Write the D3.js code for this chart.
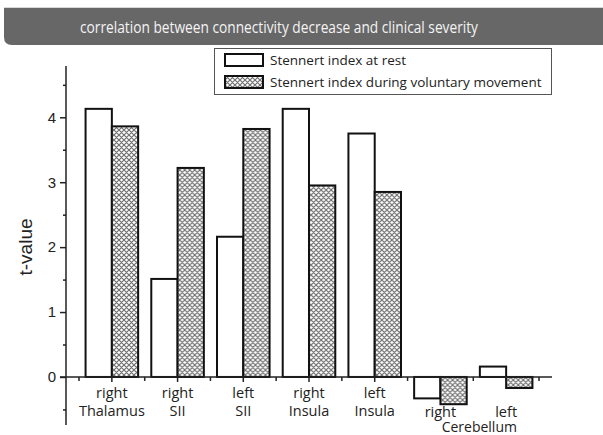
<!DOCTYPE html>
<html>
<head>
<meta charset="utf-8">
<script src="https://cdn.jsdelivr.net/npm/d3@7"></script>
<style>
  html, body { margin: 0; padding: 0; background: #fff; }
  svg { display: block; }
</style>
</head>
<body>
<svg id="chart" width="603" height="435"></svg>
<script>
const categories = ['right Thalamus', 'right SII', 'left SII', 'right Insula', 'left Insula', 'right Cerebellum', 'left Cerebellum'];
const labelTop = ['right', 'right', 'left', 'right', 'left', 'right', 'left'];
const labelBottom = ['Thalamus', 'SII', 'SII', 'Insula', 'Insula', '', ''];
const series = ['Stennert index at rest', 'Stennert index during voluntary movement'];
const restValues = [4.13, 1.51, 2.16, 4.13, 3.75, -0.33, 0.16];
const moveValues = [3.86, 3.22, 3.82, 2.95, 2.85, -0.42, -0.17];
const yTicks = [0, 1, 2, 3, 4];
const yMinorTicks = [-0.5, 0.5, 1.5, 2.5, 3.5, 4.5];
const title = 'correlation between connectivity decrease and clinical severity';

const svg = d3.select('#chart');
const humanist = "'Open Sans', 'Noto Sans', sans-serif";

// hatch pattern
const defs = svg.append('defs');
const pat = defs.append('pattern')
  .attr('id', 'hatch')
  .attr('patternUnits', 'userSpaceOnUse')
  .attr('width', 5)
  .attr('height', 5);
pat.append('rect').attr('width', 5).attr('height', 5).attr('fill', '#fff');
pat.append('path')
  .attr('d', 'M0,0 L5,5 M5,0 L0,5 M-1,4 L1,6 M4,-1 L6,1 M-1,1 L1,-1 M4,6 L6,4')
  .attr('stroke', '#707070')
  .attr('stroke-width', 1.2);

// title banner
svg.append('path')
  .attr('d', 'M4,8 H603 V45 H12 Q4,45 4,37 Z')
  .attr('fill', '#676767');
svg.append('line')
  .attr('x1', 4).attr('x2', 603).attr('y1', 7.5).attr('y2', 7.5)
  .attr('stroke', '#d8d8d8');
svg.append('text')
  .attr('x', 80)
  .attr('y', 33)
  .attr('textLength', 398)
  .attr('lengthAdjust', 'spacingAndGlyphs')
  .attr('fill', '#f4f4f4')
  .style('font-family', humanist)
  .style('font-size', '16.5px')
  .text(title);

// scales
const y = d3.scaleLinear().domain([-0.74, 4.79]).range([425, 66]);
const x = d3.scaleBand().domain(categories).range([79, 539]).padding(0);
const bw = x.bandwidth();
const xs = d3.scaleBand().domain([0, 1]).range([bw * 0.1, bw * 0.9]).padding(0);

const g = svg.append('g');

// bars
const rows = categories.map((c, i) => ({ c, vals: [restValues[i], moveValues[i]] }));
g.selectAll('.grp')
  .data(rows)
  .join('g')
  .attr('class', 'grp')
  .attr('transform', d => `translate(${x(d.c)},0)`)
  .selectAll('rect')
  .data(d => d.vals.map((v, k) => ({ v, k })))
  .join('rect')
  .attr('x', d => xs(d.k))
  .attr('width', xs.bandwidth())
  .attr('y', d => y(Math.max(0, d.v)))
  .attr('height', d => Math.abs(y(d.v) - y(0)))
  .attr('fill', d => d.k === 0 ? '#fff' : 'url(#hatch)')
  .attr('stroke', '#111')
  .attr('stroke-width', 2);

// y axis
const axisY = d3.axisLeft(y).tickValues(yTicks).tickSize(6).tickPadding(4).tickFormat(d3.format('d'));
const gy = g.append('g').attr('transform', 'translate(66,0)').call(axisY);
gy.select('.domain').attr('stroke', '#222').attr('stroke-width', 1.5).attr('d', `M0,${y(4.79)}V${y(-0.74)}`);
gy.selectAll('.tick line').attr('stroke', '#222').attr('stroke-width', 1.5);
gy.selectAll('.tick text')
  .attr('fill', '#222')
  .style('font-family', "'Liberation Sans', Arial, sans-serif")
  .style('font-size', '15px');
g.append('g').attr('transform', 'translate(66,0)')
  .call(d3.axisLeft(y).tickValues(yMinorTicks).tickSize(3).tickFormat(''))
  .call(s => s.select('.domain').remove())
  .selectAll('line').attr('stroke', '#222').attr('stroke-width', 1.5);

// x axis
g.append('line')
  .attr('x1', 60).attr('x2', 552)
  .attr('y1', y(0)).attr('y2', y(0))
  .attr('stroke', '#222').attr('stroke-width', 1.5);
const axisX = d3.axisBottom(x).tickSize(5).tickFormat('');
const gx = g.append('g').attr('transform', `translate(0,${y(0)})`).call(axisX);
gx.select('.domain').remove();
gx.selectAll('.tick line').attr('stroke', '#222').attr('stroke-width', 1.5);
const bounds = categories.map(c => x(c)).concat([x.range()[1]]);
g.selectAll('.minor-x')
  .data(bounds)
  .join('line')
  .attr('x1', d => d).attr('x2', d => d)
  .attr('y1', y(0)).attr('y2', y(0) + 4)
  .attr('stroke', '#222').attr('stroke-width', 1.5);

// category labels
const lab = g.append('g')
  .style('font-family', humanist)
  .style('font-size', '14.5px')
  .attr('fill', '#222')
  .attr('text-anchor', 'middle');
categories.forEach((c, i) => {
  const cx = x(c) + bw / 2;
  const isCb = labelBottom[i] === '';
  lab.append('text').attr('x', cx).attr('y', isCb ? 417 : 398).text(labelTop[i]);
  if (!isCb) lab.append('text').attr('x', cx).attr('y', 416).text(labelBottom[i]);
});
const cbMid = (x(categories[5]) + x(categories[6]) + bw) / 2;
lab.append('text').attr('x', cbMid + 6).attr('y', 432).style('font-size', '14px').text('Cerebellum');

// y title
svg.append('text')
  .attr('transform', 'translate(32,247) rotate(-90)')
  .attr('text-anchor', 'middle')
  .attr('fill', '#222')
  .style('font-family', "'Liberation Sans', Arial, sans-serif")
  .style('font-size', '19px')
  .text('t-value');

// legend
const lg = svg.append('g');
lg.append('rect')
  .attr('x', 214.5).attr('y', 48.5).attr('width', 337).attr('height', 46)
  .attr('fill', '#fff').attr('stroke', '#555').attr('stroke-width', 1);
series.forEach((s, i) => {
  const yy = 54 + i * 22;
  lg.append('rect')
    .attr('x', 225).attr('y', yy).attr('width', 38).attr('height', 12)
    .attr('fill', i === 0 ? '#fff' : 'url(#hatch)')
    .attr('stroke', '#111').attr('stroke-width', 2);
  lg.append('text')
    .attr('x', 270).attr('y', yy + 11)
    .attr('fill', '#222')
    .style('font-family', humanist)
    .style('font-size', '13.5px')
    .text(s);
});
</script>
</body>
</html>
